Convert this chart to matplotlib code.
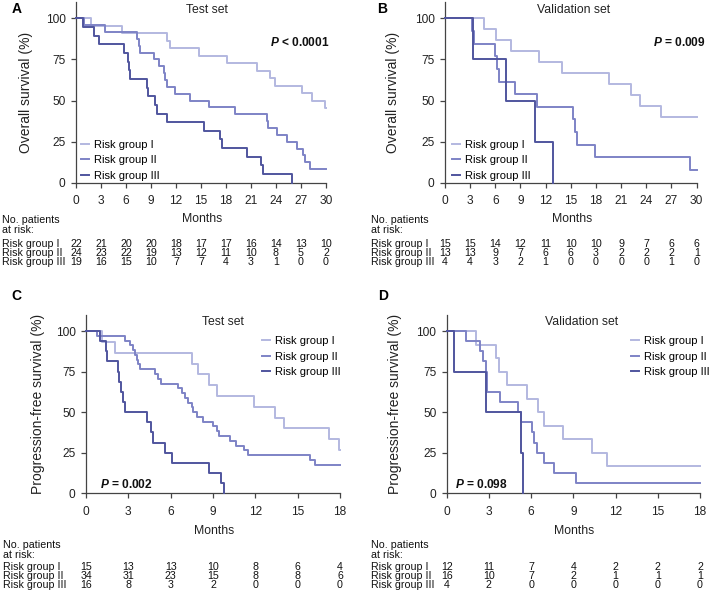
import matplotlib
matplotlib.use("Agg")
import matplotlib.pyplot as plt
from matplotlib.transforms import blended_transform_factory

plt.rcParams["font.family"] = ["Liberation Sans", "DejaVu Sans"]
plt.rcParams["mathtext.fontset"] = "custom"
plt.rcParams["mathtext.it"] = "Liberation Sans:italic:bold"
plt.rcParams["mathtext.rm"] = "Liberation Sans:bold"

GROUPS = ["Risk group I", "Risk group II", "Risk group III"]
COLORS = ["#b3b8e0", "#7e83c6", "#50559e"]

# ---- A: overall survival, test set (months, % surviving)
os_test_t = [
    [0, 1.8, 5.5, 10.9, 11.3, 14.8, 18.1, 21.7, 23.3, 23.9, 27.1, 28.3, 29.9, 30],
    [0, 0.9, 3.5, 7.3, 7.5, 7.7, 9.3, 9.9, 10.5, 10.7, 10.9, 11.9, 13.7, 15.9, 19.1,
     22.9, 23.1, 24.1, 25.3, 26.5, 27.3, 27.5, 28.1, 30],
    [0, 0.8, 2.1, 2.8, 5.7, 6.2, 6.35, 6.5, 8.5, 8.6, 9.5, 9.7, 10.9, 15.3, 17.3,
     17.5, 20.5, 22.2, 22.4, 25.9],
]
os_test_s = [
    [100, 95.5, 90.9, 86.4, 81.8, 77.3, 72.7, 68.2, 63.6, 59.1, 54.5, 50.0, 45.5, 45.5],
    [100, 95.8, 91.7, 87.5, 83.3, 79.2, 75.0, 70.8, 66.7, 62.5, 58.3, 54.2, 50.0, 45.8, 41.7,
     37.5, 33.3, 29.2, 25.0, 20.8, 16.7, 12.5, 8.3, 8.3],
    [100, 94.7, 89.5, 84.2, 78.9, 73.7, 68.4, 63.2, 57.9, 52.6, 47.4, 42.1, 36.8, 31.6, 26.3,
     21.1, 15.8, 10.5, 5.3, 0],
]
# ---- B: overall survival, validation set
os_val_t = [
    [0, 4.7, 6.1, 7.9, 11.2, 14.0, 19.5, 22.2, 23.2, 25.7, 30],
    [0, 3.2, 3.5, 6.0, 6.2, 6.4, 8.3, 11.0, 15.3, 15.5, 15.7, 17.9, 29.2, 30],
    [0, 3.4, 7.3, 10.7, 12.9],
]
os_val_s = [
    [100, 93.3, 86.7, 80.0, 73.3, 66.7, 60.0, 53.3, 46.7, 40.0, 40.0],
    [100, 92.3, 84.6, 76.9, 69.2, 61.5, 53.8, 46.2, 38.5, 30.8, 23.1, 15.4, 7.7, 7.7],
    [100, 75, 50, 25, 0],
]
# ---- C: progression-free survival, test set
pfs_test_t = [
    [0, 1.1, 2.05, 7.5, 7.95, 8.7, 9.3, 11.9, 13.4, 14.0, 17.2, 17.9, 18],
    [0, 0.75, 2.75, 3.1, 3.3, 3.5, 3.6, 3.7, 3.8, 4.9, 5.1, 5.3, 6.5, 6.8, 7.0, 7.25, 7.5,
     7.6, 7.85, 8.3, 9.0, 9.25, 9.4, 10.2, 10.6, 11.2, 11.5, 15.9, 16.2, 18],
    [0, 1.0, 1.45, 1.5, 2.3, 2.35, 2.45, 2.6, 2.75, 4.3, 4.6, 4.75, 5.6, 6.1, 8.7, 9.6, 9.8],
]
pfs_test_s = [
    [100, 93.3, 86.7, 80.0, 73.3, 66.7, 60.0, 53.3, 46.7, 40.0, 33.3, 26.7, 26.7],
    [100, 97.1, 94.1, 91.2, 88.2, 85.3, 82.4, 79.4, 76.5, 73.5, 70.6, 67.6, 64.7, 61.8, 58.8,
     55.9, 52.9, 50.0, 47.1, 44.1, 41.2, 38.2, 35.3, 32.4, 29.4, 26.5, 23.5, 20.6, 17.6, 17.6],
    [100, 93.75, 87.5, 81.25, 75.0, 68.75, 62.5, 56.25, 50.0, 43.75, 37.5, 31.25, 25.0,
     18.75, 12.5, 6.25, 0],
]
# ---- D: progression-free survival, validation set
pfs_val_t = [
    [0, 2.05, 3.5, 3.7, 4.3, 5.7, 6.5, 6.9, 8.3, 10.3, 11.4, 18],
    [0, 1.4, 2.35, 2.55, 2.8, 2.85, 2.9, 3.8, 5.05, 5.3, 6.05, 6.2, 6.4, 6.9, 7.6, 9.2, 18],
    [0, 0.55, 2.8, 5.3, 5.45],
]
pfs_val_s = [
    [100, 91.7, 83.3, 75.0, 66.7, 58.3, 50.0, 41.7, 33.3, 25.0, 16.7, 16.7],
    [100, 93.75, 87.5, 81.25, 75.0, 68.75, 62.5, 56.25, 50.0, 43.75, 37.5, 31.25, 25.0,
     18.75, 12.5, 6.25, 6.25],
    [100, 75, 50, 25, 0],
]

# numbers at risk
risk_os_test = [[22, 21, 20, 20, 18, 17, 17, 16, 14, 13, 10],
                [24, 23, 22, 19, 13, 12, 11, 10, 8, 5, 2],
                [19, 16, 15, 10, 7, 7, 4, 3, 1, 0, 0]]
risk_os_val = [[15, 15, 14, 12, 11, 10, 10, 9, 7, 6, 6],
               [13, 13, 9, 7, 6, 6, 3, 2, 2, 2, 1],
               [4, 4, 3, 2, 1, 0, 0, 0, 0, 1, 0]]
risk_pfs_test = [[15, 13, 13, 10, 8, 6, 4],
                 [34, 31, 23, 15, 8, 8, 6],
                 [16, 8, 3, 2, 0, 0, 0]]
risk_pfs_val = [[12, 11, 7, 4, 2, 2, 2],
                [16, 10, 7, 2, 1, 1, 1],
                [4, 2, 0, 0, 0, 0, 0]]

OS_TICKS = list(range(0, 31, 3))
PFS_TICKS = list(range(0, 19, 3))

W, H = 709, 594
fig = plt.figure(figsize=(W / 100, H / 100), dpi=100)

TOP_ROWS = (220.3, 230.0, 244.5, 253, 261.5)
BOT_ROWS = (545.3, 555.0, 567.5, 576, 584.5)

panels = [
    # letter, rect, times, surv, risk, ticks, xmax, title, title pos, ylabel, p text, p pos,
    # legend, letter pos, table x, table rows, ylabel x, xlabel y
    ("A", [0.1072, 0.6924, 0.3526, 0.3044], os_test_t, os_test_s, risk_os_test, OS_TICKS, 30,
     "Test set", (15.7, 105.2), "Overall survival (%)", r"$P$ < 0.0001", (30.4, 85.6, "right"),
     ("lower left", (0.02, 0.01)), (17, 9), 2, TOP_ROWS, -0.172, -0.165),
    ("B", [0.6276, 0.6924, 0.3550, 0.3044], os_val_t, os_val_s, risk_os_val, OS_TICKS, 30,
     "Validation set", (15.3, 105.2), "Overall survival (%)", r"$P$ = 0.009", (31.1, 85.6, "right"),
     ("lower left", (0.027, 0.01)), (382, 9), 371, TOP_ROWS, -0.179, -0.165),
    ("C", [0.1213, 0.1695, 0.3582, 0.3005], pfs_test_t, pfs_test_s, risk_pfs_test, PFS_TICKS, 18,
     "Test set", (9.7, 105.5), "Progression-free survival (%)", r"$P$ = 0.002", (1.0, 5.7, "left"),
     ("upper left", (0.692, 0.88)), (16, 296), 3, BOT_ROWS, -0.161, -0.18),
    ("D", [0.6300, 0.1695, 0.3573, 0.3005], pfs_val_t, pfs_val_s, risk_pfs_val, PFS_TICKS, 18,
     "Validation set", (9.6, 105.5), "Progression-free survival (%)", r"$P$ = 0.098", (0.6, 5.7, "left"),
     ("upper left", (0.728, 0.88)), (383, 296), 371, BOT_ROWS, -0.178, -0.18),
]

for (letter, rect, T, S, risk, ticks, xmax, title, tpos, ylab, ptxt, ppos, leg,
     lpos, tab_x, tab_y, ylab_x, xlab_y) in panels:
    ax = fig.add_axes(rect)
    lines = []
    for t, s, c, g in zip(T, S, COLORS, GROUPS):
        ln, = ax.step(t, s, where="post", color=c, lw=1.4, clip_on=False, zorder=3, label=g)
        lines.append(ln)
    ax.set_xlim(0, xmax)
    ax.set_ylim(0, 110)
    ax.set_xticks(ticks)
    ax.set_yticks([0, 25, 50, 75, 100])
    for sp in ("top", "right"):
        ax.spines[sp].set_visible(False)
    for sp in ("left", "bottom"):
        ax.spines[sp].set_color("#444444")
        ax.spines[sp].set_linewidth(0.9)
    ax.tick_params(length=3.5, width=0.9, color="#444444", labelsize=8.6,
                   labelcolor="#222222", pad=4)
    ax.tick_params(axis="x", pad=5.5)
    ax.set_xlabel("Months", fontsize=8.8, color="#222222")
    ax.set_ylabel(ylab, fontsize=10, color="#222222")
    ax.yaxis.set_label_coords(ylab_x, 0.5)
    ax.xaxis.set_label_coords(0.505, xlab_y)
    ax.text(tpos[0], tpos[1], title, ha="center", va="center", fontsize=8.8, color="#222222")
    ax.text(ppos[0], ppos[1], ptxt, ha=ppos[2], va="center", fontsize=8.6,
            fontweight="bold", color="#111111")
    ax.legend(handles=lines, loc=leg[0], bbox_to_anchor=leg[1], frameon=False,
              fontsize=8, handlelength=0.7, handletextpad=0.45, labelspacing=0.5,
              borderpad=0, borderaxespad=0)
    fig.text(lpos[0] / W, 1 - lpos[1] / H, letter, fontsize=10, fontweight="bold",
             ha="center", va="center")

    # number-at-risk table
    tr = blended_transform_factory(ax.transData, fig.transFigure)
    kw = dict(fontsize=7.7, va="center", color="#111111")
    fig.text(tab_x / W, 1 - tab_y[0] / H, "No. patients", ha="left", **kw)
    fig.text(tab_x / W, 1 - tab_y[1] / H, "at risk:", ha="left", **kw)
    for i, (g, row) in enumerate(zip(GROUPS, risk)):
        y = 1 - tab_y[2 + i] / H
        fig.text(tab_x / W, y, g, ha="left", **kw)
        for x, n in zip(ticks, row):
            ax.text(x, y, str(n), transform=tr, ha="center", clip_on=False, **kw)

fig.savefig("out.png", dpi=100)
